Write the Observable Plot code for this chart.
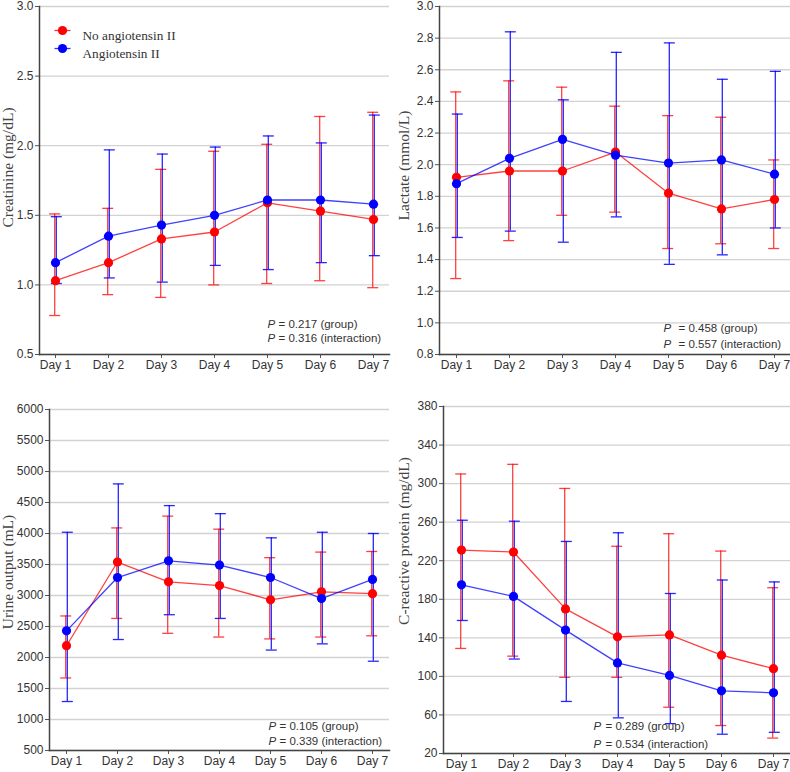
<!DOCTYPE html>
<html><head><meta charset="utf-8">
<script src="https://cdn.jsdelivr.net/npm/d3@7"></script>
<script src="https://cdn.jsdelivr.net/npm/@observablehq/plot@0.6"></script>
<style>
body{margin:0;background:#fff;}
#wrap{position:relative;width:790px;height:772px;overflow:hidden;}
#wrap > svg{position:absolute;}
</style></head><body><div id="wrap"></div>
<script>
const days = ["Day 1","Day 2","Day 3","Day 4","Day 5","Day 6","Day 7"];
const groups = ["No angiotensin II","Angiotensin II"];
const colors = ["#ff0000","#0000ff"];

// Creatinine (mg/dL)
const creatNoMean = [1.03,1.16,1.33,1.38,1.59,1.53,1.47];
const creatNoLo   = [0.78,0.93,0.91,1.00,1.01,1.03,0.98];
const creatNoHi   = [1.51,1.55,1.83,1.96,2.01,2.21,2.24];
const creatAngMean = [1.16,1.35,1.43,1.50,1.61,1.61,1.58];
const creatAngLo   = [1.01,1.05,1.02,1.14,1.11,1.16,1.21];
const creatAngHi   = [1.49,1.97,1.94,1.99,2.07,2.02,2.22];
const creatTicks = [0.5,1.0,1.5,2.0,2.5,3.0];

// Lactate (mmol/L)
const lacNoMean = [1.92,1.96,1.96,2.08,1.82,1.72,1.78];
const lacNoLo   = [1.28,1.52,1.68,1.70,1.47,1.50,1.47];
const lacNoHi   = [2.46,2.53,2.49,2.37,2.31,2.30,2.03];
const lacAngMean = [1.88,2.04,2.16,2.06,2.01,2.03,1.94];
const lacAngLo   = [1.54,1.58,1.51,1.67,1.37,1.43,1.60];
const lacAngHi   = [2.32,2.84,2.41,2.71,2.77,2.54,2.59];
const lacTicks = [0.8,1.0,1.2,1.4,1.6,1.8,2.0,2.2,2.4,2.6,2.8,3.0];

// Urine output (mL)
const urNoMean = [2190,3540,3220,3160,2930,3060,3030];
const urNoLo   = [1670,2630,2390,2330,2300,2330,2350];
const urNoHi   = [2670,4090,4280,4070,3610,3700,3710];
const urAngMean = [2430,3290,3560,3490,3290,2950,3260];
const urAngLo   = [1290,2290,2690,2630,2120,2220,1940];
const urAngHi   = [4020,4800,4450,4320,3930,4020,4000];
const urTicks = [500,1000,1500,2000,2500,3000,3500,4000,4500,5000,5500,6000];

// C-reactive protein (mg/dL)
const crpNoMean = [231,229,170,141,143,122,108];
const crpNoLo   = [129,121,99,99,68,49,36];
const crpNoHi   = [310,320,295,235,248,230,192];
const crpAngMean = [195,183,148,114,101,85,83];
const crpAngLo   = [158,118,74,57,51,40,42];
const crpAngHi   = [262,261,240,249,186,200,198];
const crpTicks = [20,60,100,140,180,220,260,300,340,380];

function rows(mean, lo, hi, g) {
  return days.map((d, i) => ({day: d, group: groups[g], mean: mean[i], lo: lo[i], hi: hi[i]}));
}

const capSymbol = {draw(ctx) { ctx.moveTo(-5.5, 0); ctx.lineTo(5.5, 0); }};
const legendLine = {draw(ctx) { ctx.moveTo(-8, 0); ctx.lineTo(8, 0); }};
const serif = "Liberation Serif, Times New Roman, serif";

function panel(o) {
  const series = [rows(...o.no, 0), rows(...o.ang, 1)];
  const data = [...series[0], ...series[1]];
  const [ml, mt, mr, mb] = o.margins;
  const marks = [
    Plot.gridY(o.ticks, {stroke: "#d2d2d2", strokeOpacity: 1, strokeWidth: 1.3}),
    Plot.axisY(o.ticks, {tickSize: 4, tickPadding: 2, tickFormat: o.fmt, fontSize: 12, fill: "#333", stroke: "#555", label: null}),
    Plot.axisX({tickSize: 4, tickPadding: 2, fontSize: 12, fill: "#333", stroke: "#555", label: null}),
    Plot.frame({anchor: "left", stroke: "#444", strokeWidth: 1.5}),
    Plot.frame({anchor: "bottom", stroke: "#444", strokeWidth: 1.5})
  ];
  series.forEach((s, i) => {
    const dx = i === 0 ? -0.8 : 0.8;
    const op = i === 0 ? 0.75 : 0.85;
    marks.push(
      Plot.ruleX(s, {x: "day", y1: "lo", y2: "hi", stroke: "group", strokeOpacity: op, strokeWidth: 1.3, dx}),
      Plot.dot(s, {x: "day", y: "lo", symbol: capSymbol, stroke: "group", fill: "none", strokeOpacity: op, strokeWidth: 1.3, dx}),
      Plot.dot(s, {x: "day", y: "hi", symbol: capSymbol, stroke: "group", fill: "none", strokeOpacity: op, strokeWidth: 1.3, dx})
    );
  });
  marks.push(
    Plot.line(data, {x: "day", y: "mean", z: "group", stroke: "group", strokeOpacity: 0.75, strokeWidth: 1.3}),
    Plot.dot(data, {x: "day", y: "mean", fill: "group", r: 4.6}),
    Plot.text([o.title], {frameAnchor: "left", textAnchor: "middle", dx: o.titlePos[0], dy: o.titlePos[1], rotate: -90, fontFamily: serif, fontSize: 15.5, fill: "#444"}),
    Plot.text(["P"], {frameAnchor: "bottom-left", dx: o.pPos[0], dy: o.pPos[1], textAnchor: "start", fontStyle: "italic", fontSize: 11.5, fill: "#333"}),
    Plot.text([o.pGroup], {frameAnchor: "bottom-left", dx: o.pPos[0] + o.pGap, dy: o.pPos[1], textAnchor: "start", fontSize: 11.5, fill: "#333"}),
    Plot.text(["P"], {frameAnchor: "bottom-left", dx: o.pPos[0], dy: o.pPos[2], textAnchor: "start", fontStyle: "italic", fontSize: 11.5, fill: "#333"}),
    Plot.text([o.pInter], {frameAnchor: "bottom-left", dx: o.pPos[0] + o.pGap, dy: o.pPos[2], textAnchor: "start", fontSize: 11.5, fill: "#333"})
  );
  if (o.legend) {
    groups.forEach((g, i) => {
      const dy = 24 + i * 18;
      marks.push(
        Plot.dot([g], {frameAnchor: "top-left", dx: 23, dy, symbol: legendLine, stroke: colors[i], strokeOpacity: 0.8, strokeWidth: 1.3, fill: "none"}),
        Plot.dot([g], {frameAnchor: "top-left", dx: 23, dy, r: 4.6, fill: colors[i]}),
        Plot.text([g], {frameAnchor: "top-left", dx: 43, dy, textAnchor: "start", fontFamily: serif, fontSize: 13.3, fill: "#333"})
      );
    });
  }
  const svg = Plot.plot({
    width: o.width, height: o.height,
    marginLeft: ml, marginTop: mt, marginRight: mr, marginBottom: mb,
    x: {type: "point", domain: days, padding: o.pad},
    y: {domain: [o.ticks[0], o.ticks[o.ticks.length - 1]]},
    color: {domain: groups, range: colors},
    style: {fontFamily: "Liberation Sans, Arial, sans-serif", fontSize: "12px", background: "transparent", overflow: "visible"},
    marks
  });
  svg.style.left = o.left + "px";
  svg.style.top = o.top + "px";
  document.getElementById("wrap").appendChild(svg);
}

const f1 = d3.format(".1f");

panel({no: [creatNoMean, creatNoLo, creatNoHi], ang: [creatAngMean, creatAngLo, creatAngHi],
  ticks: creatTicks, fmt: f1, title: "Creatinine (mg/dL)", legend: true,
  left: 0, top: 0, width: 395, height: 372, margins: [39, 6, 6, 18], pad: 0.28,
  titlePos: [-31, -13], pPos: [228, -27, -13], pGap: 11,
  pGroup: "= 0.217 (group)", pInter: "= 0.316 (interaction)"});

panel({no: [lacNoMean, lacNoLo, lacNoHi], ang: [lacAngMean, lacAngLo, lacAngHi],
  ticks: lacTicks, fmt: f1, title: "Lactate (mmol/L)",
  left: 395, top: 0, width: 395, height: 372, margins: [44, 6, 0, 18], pad: 0.3,
  titlePos: [-35, -15], pPos: [224, -23, -7], pGap: 15,
  pGroup: "= 0.458 (group)", pInter: "= 0.557 (interaction)"});

panel({no: [urNoMean, urNoLo, urNoHi], ang: [urAngMean, urAngLo, urAngHi],
  ticks: urTicks, fmt: d3.format("d"), title: "Urine output (mL)",
  left: 0, top: 372, width: 395, height: 400, margins: [49, 37, 6, 22], pad: 0.29,
  titlePos: [-41, -8], pPos: [219, -21, -6], pGap: 11,
  pGroup: "= 0.105 (group)", pInter: "= 0.339 (interaction)"});

panel({no: [crpNoMean, crpNoLo, crpNoHi], ang: [crpAngMean, crpAngLo, crpAngHi],
  ticks: crpTicks, fmt: d3.format("d"), title: "C-reactive protein (mg/dL)",
  left: 395, top: 372, width: 395, height: 400, margins: [48, 34, 0, 19], pad: 0.28,
  titlePos: [-39, -39], pPos: [150, -24, -6], pGap: 12,
  pGroup: "= 0.289 (group)", pInter: "= 0.534 (interaction)"});
</script></body></html>
